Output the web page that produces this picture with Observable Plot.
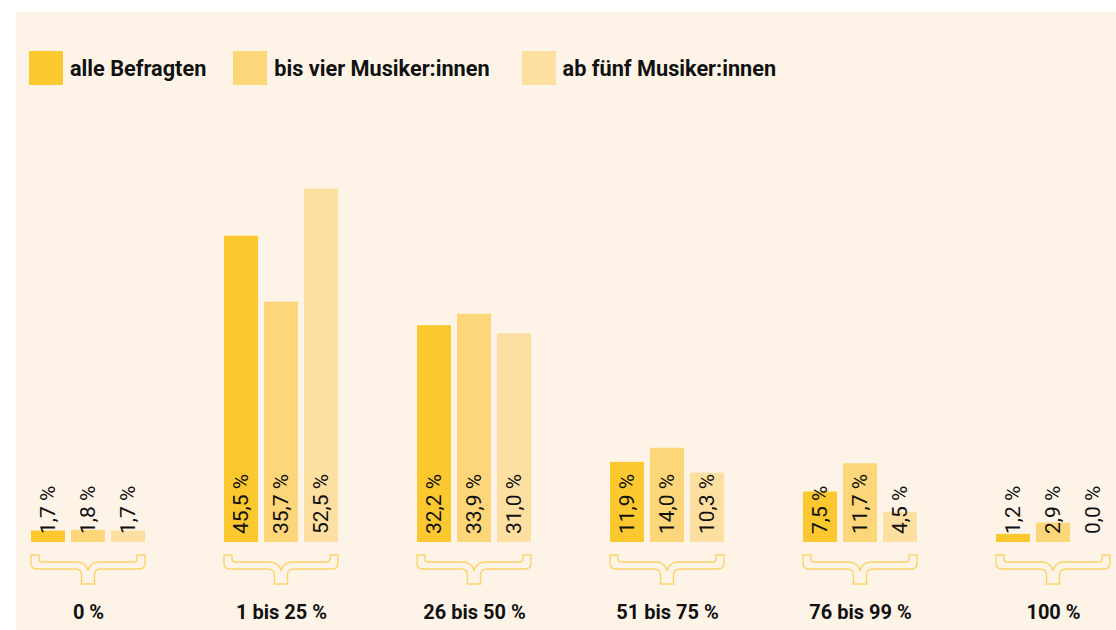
<!DOCTYPE html>
<html>
<head>
<meta charset="utf-8">
<script src="https://cdn.jsdelivr.net/npm/d3@7"></script>
<script src="https://cdn.jsdelivr.net/npm/@observablehq/plot@0.6"></script>
<style>
  html, body { margin: 0; padding: 0; background: #ffffff; }
  #panel {
    position: absolute; left: 16px; top: 12px; width: 1100px; height: 618px;
    background: #fdf4e7; font-family: Roboto, "Noto Sans", sans-serif; overflow: hidden;
  }
  #legend { display: flex; align-items: center; padding: 39px 0 0 13px; height: 34px; margin-bottom: 15px; }
  .item { display: flex; align-items: center; margin-right: 27px; }
  .item:nth-child(2) { margin-right: 32px; }
  .sw { width: 34px; height: 34px; margin-right: 7px; }
  .lab { font-weight: 700; font-size: 21.7px; color: #111; }
  svg { display: block; }
</style>
</head>
<body>
<div id="panel">
  <div id="legend"></div>
  <div id="chart"></div>
</div>
<script>
const groups = ["0 %", "1 bis 25 %", "26 bis 50 %", "51 bis 75 %", "76 bis 99 %", "100 %"];
const series = ["alle Befragten", "bis vier Musiker:innen", "ab fünf Musiker:innen"];
const colors = ["#fbc830", "#fcd678", "#fde0a1"];
const alleBefragten = [1.7, 45.5, 32.2, 11.9, 7.5, 1.2];
const bisVier = [1.8, 35.7, 33.9, 14.0, 11.7, 2.9];
const abFuenf = [1.7, 52.5, 31.0, 10.3, 4.5, 0.0];

const seriesValues = [alleBefragten, bisVier, abFuenf];
const data = [];
groups.forEach((g, i) => {
  series.forEach((s, j) => data.push({group: g, series: s, value: seriesValues[j][i]}));
});
const fmt = v => v.toFixed(1).replace(".", ",") + "\u00a0%";

// legend
const legend = document.getElementById("legend");
series.forEach((s, j) => {
  const it = document.createElement("div"); it.className = "item";
  const sw = document.createElement("div"); sw.className = "sw"; sw.style.background = colors[j];
  const lb = document.createElement("div"); lb.className = "lab"; lb.textContent = s;
  it.appendChild(sw); it.appendChild(lb); legend.appendChild(it);
});

function braces(index, scales) {
  const {x, y} = scales;
  const bw = typeof x.bandwidth === "function" ? x.bandwidth() : x.bandwidth;
  const L = x(series[0]), R = x(series[series.length - 1]) + bw, b = y(0);
  const w = R - L, c = w / 2;
  const P = (px, py) => `${L + px},${b + py}`;
  const d = [
    `M${P(0, 13)}`, `H${L + 8}`, `V${b + 17}`, `Q${P(8, 20)} ${P(11, 20)}`,
    `H${L + c - 12}`, `Q${P(c - 2, 20)} ${P(c, 29)}`, `Q${P(c + 2, 20)} ${P(c + 12, 20)}`,
    `H${L + w - 11}`, `Q${P(w - 8, 20)} ${P(w - 8, 17)}`, `V${b + 13}`, `H${L + w}`,
    `V${b + 21}`, `Q${P(w, 27)} ${P(w - 6, 27)}`, `H${L + c + 13}`,
    `Q${P(c + 6.5, 27)} ${P(c + 6.5, 33)}`, `V${b + 42}`, `H${L + c - 6.5}`, `V${b + 33}`,
    `Q${P(c - 6.5, 27)} ${P(c - 13, 27)}`, `H${L + 6}`, `Q${P(0, 27)} ${P(0, 21)}`, "Z"
  ].join(" ");
  const path = document.createElementNS("http://www.w3.org/2000/svg", "path");
  path.setAttribute("d", d);
  path.setAttribute("fill", "#fdf4e7");
  path.setAttribute("stroke", "#fcd36a");
  path.setAttribute("stroke-width", "1.4");
  return path;
}

const chart = Plot.plot({
  width: 1100,
  height: 530,
  marginTop: 38,
  marginBottom: 88,
  marginLeft: 13,
  marginRight: 6,
  style: {background: "transparent", fontFamily: "Roboto, 'Noto Sans', sans-serif"},
  fx: {domain: groups, paddingInner: 0.405, paddingOuter: 0, axis: null, label: null},
  x: {domain: series, paddingInner: 0.16, paddingOuter: 0, axis: null, label: null},
  y: {domain: [0, 60], axis: null, label: null},
  color: {domain: series, range: colors},
  marks: [
    Plot.barY(data, {fx: "group", x: "series", y: "value", fill: "series"}),
    Plot.text(data, {
      fx: "group", x: "series", y: () => 0, text: d => fmt(d.value),
      rotate: -90, textAnchor: "start", dy: -8.5, fontSize: 21, fill: "#111"
    }),
    braces,
    Plot.text(groups, {
      fx: d => d, x: () => series[1], frameAnchor: "bottom", lineAnchor: "middle", dy: 70,
      text: d => d, fontSize: 20, fontWeight: "bold", fill: "#111"
    })
  ]
});
document.getElementById("chart").appendChild(chart);
</script>
</body>
</html>
